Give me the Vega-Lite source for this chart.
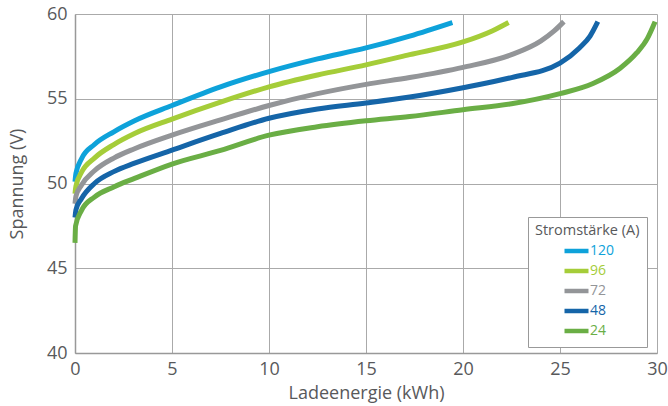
{
  "$schema": "https://vega.github.io/schema/vega-lite/v6.json",
  "width": 582,
  "height": 339,
  "autosize": "none",
  "padding": {"left": 75, "top": 14, "right": 11, "bottom": 53},
  "background": "white",
  "config": {
    "font": "Open Sans",
    "view": {"stroke": null},
    "axis": {
      "labelFont": "Open Sans",
      "titleFont": "Open Sans",
      "labelColor": "#58595b",
      "titleColor": "#58595b",
      "labelFontSize": 18,
      "titleFontSize": 18,
      "titleFontWeight": "normal",
      "gridColor": "#aaaaaa",
      "gridWidth": 1,
      "gridOpacity": 1,
      "domainColor": "#999999",
      "domainWidth": 1.5,
      "ticks": false,
      "labelFlush": false
    }
  },
  "data": {
    "values": [
      {"A": "120", "x": 0, "y": 50.1}, {"A": "120", "x": 0.05, "y": 50.6}, {"A": "120", "x": 0.33, "y": 51.45}, {"A": "120", "x": 1.0, "y": 52.3}, {"A": "120", "x": 2.0, "y": 53.05}, {"A": "120", "x": 3.07, "y": 53.7}, {"A": "120", "x": 5, "y": 54.6}, {"A": "120", "x": 7.5, "y": 55.7}, {"A": "120", "x": 10, "y": 56.6}, {"A": "120", "x": 12.5, "y": 57.35}, {"A": "120", "x": 15, "y": 58.0}, {"A": "120", "x": 17.25, "y": 58.7}, {"A": "120", "x": 19.45, "y": 59.5},
      {"A": "96", "x": 0, "y": 49.4}, {"A": "96", "x": 0.05, "y": 49.85}, {"A": "96", "x": 0.33, "y": 50.65}, {"A": "96", "x": 1.0, "y": 51.5}, {"A": "96", "x": 2.0, "y": 52.3}, {"A": "96", "x": 3.07, "y": 52.95}, {"A": "96", "x": 5, "y": 53.8}, {"A": "96", "x": 7.5, "y": 54.8}, {"A": "96", "x": 10, "y": 55.7}, {"A": "96", "x": 12.5, "y": 56.4}, {"A": "96", "x": 15, "y": 57.0}, {"A": "96", "x": 17.25, "y": 57.6}, {"A": "96", "x": 20, "y": 58.35}, {"A": "96", "x": 21.5, "y": 59.0}, {"A": "96", "x": 22.35, "y": 59.5},
      {"A": "72", "x": 0, "y": 48.8}, {"A": "72", "x": 0.05, "y": 49.25}, {"A": "72", "x": 0.33, "y": 49.9}, {"A": "72", "x": 1.0, "y": 50.75}, {"A": "72", "x": 2.0, "y": 51.5}, {"A": "72", "x": 3.07, "y": 52.05}, {"A": "72", "x": 5, "y": 52.85}, {"A": "72", "x": 7.5, "y": 53.75}, {"A": "72", "x": 10, "y": 54.6}, {"A": "72", "x": 12.5, "y": 55.3}, {"A": "72", "x": 15, "y": 55.85}, {"A": "72", "x": 17.25, "y": 56.25}, {"A": "72", "x": 20, "y": 56.85}, {"A": "72", "x": 22.5, "y": 57.6}, {"A": "72", "x": 24, "y": 58.4}, {"A": "72", "x": 24.7, "y": 59.0}, {"A": "72", "x": 25.2, "y": 59.55},
      {"A": "48", "x": 0, "y": 48.0}, {"A": "48", "x": 0.05, "y": 48.45}, {"A": "48", "x": 0.33, "y": 49.1}, {"A": "48", "x": 1.0, "y": 50.0}, {"A": "48", "x": 2.0, "y": 50.7}, {"A": "48", "x": 3.07, "y": 51.2}, {"A": "48", "x": 5, "y": 51.97}, {"A": "48", "x": 7.5, "y": 52.95}, {"A": "48", "x": 10, "y": 53.85}, {"A": "48", "x": 12.5, "y": 54.4}, {"A": "48", "x": 15, "y": 54.75}, {"A": "48", "x": 17.25, "y": 55.1}, {"A": "48", "x": 20, "y": 55.65}, {"A": "48", "x": 22.5, "y": 56.25}, {"A": "48", "x": 25, "y": 57.1}, {"A": "48", "x": 26.0, "y": 58.0}, {"A": "48", "x": 26.55, "y": 58.7}, {"A": "48", "x": 26.95, "y": 59.55},
      {"A": "24", "x": 0, "y": 46.5}, {"A": "24", "x": 0.03, "y": 47.5}, {"A": "24", "x": 0.33, "y": 48.4}, {"A": "24", "x": 1.0, "y": 49.2}, {"A": "24", "x": 2.0, "y": 49.8}, {"A": "24", "x": 3.07, "y": 50.3}, {"A": "24", "x": 5, "y": 51.15}, {"A": "24", "x": 7.5, "y": 51.95}, {"A": "24", "x": 10, "y": 52.85}, {"A": "24", "x": 12.5, "y": 53.35}, {"A": "24", "x": 15, "y": 53.7}, {"A": "24", "x": 17.25, "y": 53.95}, {"A": "24", "x": 20, "y": 54.35}, {"A": "24", "x": 22.5, "y": 54.7}, {"A": "24", "x": 25, "y": 55.3}, {"A": "24", "x": 26.7, "y": 55.9}, {"A": "24", "x": 28.1, "y": 56.8}, {"A": "24", "x": 28.95, "y": 57.7}, {"A": "24", "x": 29.5, "y": 58.55}, {"A": "24", "x": 29.9, "y": 59.55}
    ]
  },
  "mark": {"type": "line", "strokeWidth": 5, "interpolate": "monotone"},
  "encoding": {
    "x": {
      "field": "x", "type": "quantitative",
      "scale": {"domain": [0, 30], "nice": false},
      "axis": {"values": [0, 5, 10, 15, 20, 25, 30], "title": "Ladeenergie (kWh)", "labelPadding": 7, "titlePadding": 6}
    },
    "y": {
      "field": "y", "type": "quantitative",
      "scale": {"domain": [40, 60], "nice": false, "zero": false},
      "axis": {"values": [40, 45, 50, 55, 60], "title": "Spannung (V)", "labelPadding": 8, "titlePadding": 20}
    },
    "color": {
      "field": "A", "type": "nominal",
      "scale": {"domain": ["120", "96", "72", "48", "24"], "range": ["#0ea2da", "#a5cd39", "#939598", "#1565a8", "#6aae45"]},
      "legend": {
        "title": "Stromstärke (A)",
        "orient": "none",
        "legendX": 453,
        "legendY": 203,
        "direction": "vertical",
        "fillColor": "white",
        "strokeColor": "#999999",
        "padding": 7,
        "titleFont": "Open Sans",
        "titleFontSize": 14.5,
        "titleFontWeight": "normal",
        "titleColor": "#58595b",
        "titlePadding": 2,
        "labelFont": "Open Sans",
        "labelFontSize": 14,
        "symbolType": "M-1.5,0H1.5",
        "symbolSize": 256,
        "symbolStrokeWidth": 4.5,
        "symbolOffset": 31,
        "rowPadding": 0,
        "labelOffset": 3,
        "labelLimit": 60,
        "encode": {
          "labels": {"update": {"fill": {"scale": "color", "field": "value"}}}
        }
      }
    }
  }
}
